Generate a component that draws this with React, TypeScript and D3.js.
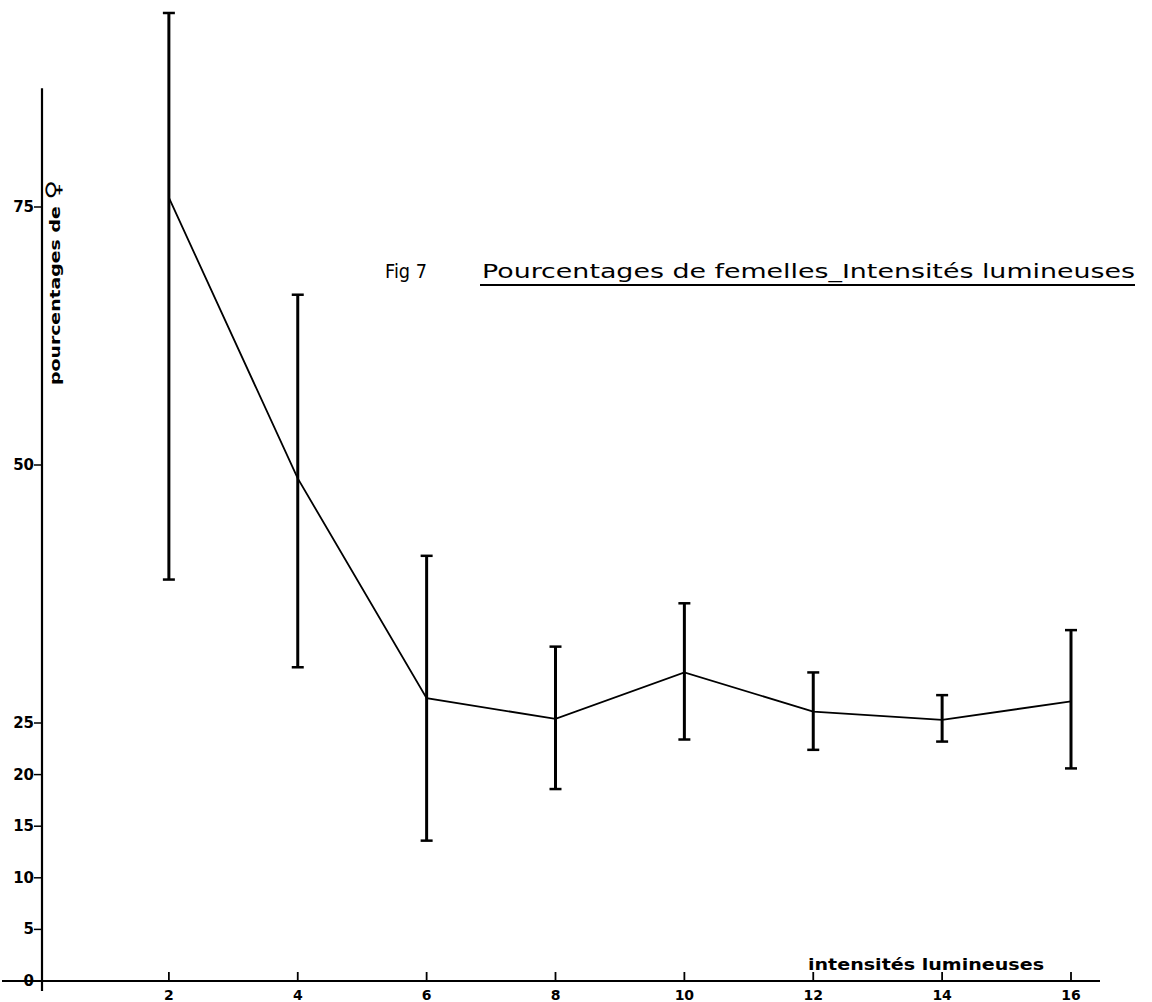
import React from "react";
import * as d3 from "d3";

const intensities = [2, 4, 6, 8, 10, 12, 14, 16];
const meanPct = [75.9, 48.7, 27.4, 25.4, 29.9, 26.1, 25.3, 27.1];
const upperPct = [93.8, 66.5, 41.2, 32.4, 36.6, 29.9, 27.7, 34.0];
const lowerPct = [38.9, 30.4, 13.6, 18.6, 23.4, 22.4, 23.2, 20.6];
const xTicks = [2, 4, 6, 8, 10, 12, 14, 16];
const yTicks = [0, 5, 10, 15, 20, 25, 50, 75];

const W = 1152;
const H = 1002;
const FONT = "'DejaVu Sans', sans-serif";

export default function App() {
  const x = d3.scaleLinear().domain([0, 16]).range([40, 1071]);
  const y = d3.scaleLinear().domain([0, 75]).range([981, 207]);
  const line = d3
    .line<number>()
    .x((_, i) => x(intensities[i]))
    .y((d) => y(d));
  const x0 = x(0) + 2;
  const yBase = y(0);

  return (
    <svg
      width={W}
      height={H}
      viewBox={`0 0 ${W} ${H}`}
      style={{ position: "absolute", left: 0, top: 0, background: "#fff" }}
    >
      <rect x={0} y={0} width={W} height={H} fill="#fff" />
      {/* axes */}
      <line x1={x0} x2={x0} y1={y(86.5)} y2={yBase + 10} stroke="#000" strokeWidth={2.2} />
      <line x1={2} x2={1100} y1={yBase} y2={yBase} stroke="#000" strokeWidth={2.2} />
      {/* y ticks */}
      {yTicks.map((t) => (
        <g key={"y" + t}>
          <line x1={x0 - 8} x2={x0} y1={y(t)} y2={y(t)} stroke="#000" strokeWidth={1.5} />
          <text
            x={x0 - 8}
            y={y(t)}
            textAnchor="end"
            dominantBaseline="central"
            fontFamily={FONT}
            fontWeight="bold"
            fontSize={15}
          >
            {t}
          </text>
        </g>
      ))}
      {/* x ticks */}
      {xTicks.map((t) => (
        <g key={"x" + t}>
          <line x1={x(t)} x2={x(t)} y1={yBase - 9} y2={yBase} stroke="#000" strokeWidth={1.8} />
          <text
            x={x(t)}
            y={yBase + 19}
            textAnchor="middle"
            fontFamily={FONT}
            fontWeight="bold"
            fontSize={14}
          >
            {t}
          </text>
        </g>
      ))}
      {/* error bars */}
      {intensities.map((v, i) => (
        <g key={"e" + v} stroke="#000">
          <line x1={x(v)} x2={x(v)} y1={y(upperPct[i])} y2={y(lowerPct[i])} strokeWidth={3} />
          <line x1={x(v) - 6} x2={x(v) + 6} y1={y(upperPct[i])} y2={y(upperPct[i])} strokeWidth={2.5} />
          <line x1={x(v) - 6} x2={x(v) + 6} y1={y(lowerPct[i])} y2={y(lowerPct[i])} strokeWidth={2.5} />
        </g>
      ))}
      {/* mean line */}
      <path d={line(meanPct) || ""} fill="none" stroke="#000" strokeWidth={1.8} />
      {/* y-axis title */}
      <text
        transform={`translate(60, 385) rotate(-90)`}
        fontFamily={FONT}
        fontWeight="bold"
        fontSize={14}
        textLength={205}
        lengthAdjust="spacingAndGlyphs"
      >
        pourcentages de <tspan fontSize={20}>♀</tspan>
      </text>
      {/* titles */}
      <text x={385} y={278} fontFamily={FONT} fontSize={20} textLength={42} lengthAdjust="spacingAndGlyphs">
        Fig 7
      </text>
      <text
        x={482}
        y={278}
        fontFamily={FONT}
        fontSize={19}
        textLength={653}
        lengthAdjust="spacingAndGlyphs"
      >
        Pourcentages  de  femelles_Intensités lumineuses
      </text>
      <line x1={480} x2={1135} y1={285} y2={285} stroke="#000" strokeWidth={2.2} />
      {/* x-axis title */}
      <text
        x={808}
        y={970}
        fontFamily={FONT}
        fontWeight="bold"
        fontSize={15}
        textLength={236}
        lengthAdjust="spacingAndGlyphs"
      >
        intensités lumineuses
      </text>
    </svg>
  );
}
